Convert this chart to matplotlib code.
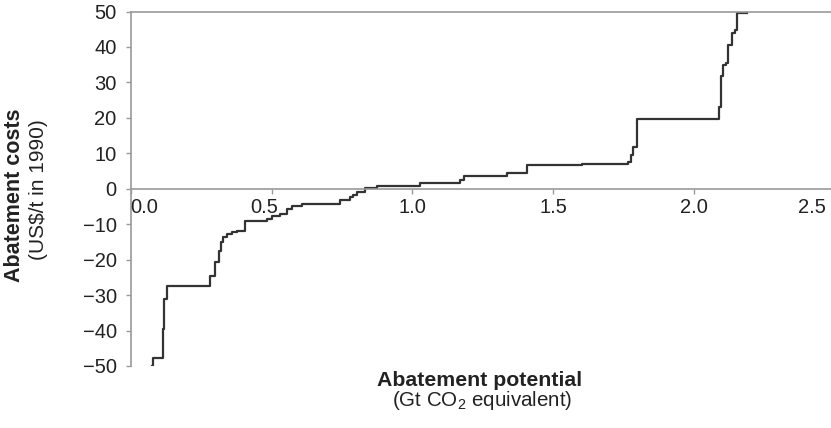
import numpy as np
import matplotlib
matplotlib.use("Agg")
import matplotlib.pyplot as plt
import matplotlib.transforms as mtransforms

plt.rcParams['font.family'] = ['Liberation Sans', 'DejaVu Sans']
plt.rcParams['mathtext.fontset'] = 'custom'
plt.rcParams['mathtext.rm'] = 'Liberation Sans'

# Marginal abatement cost curve (step starts, cost level of each step)
potential = [0.075, 0.079, 0.113, 0.119, 0.128, 0.282, 0.299, 0.313, 0.319, 0.329,
             0.341, 0.359, 0.376, 0.406, 0.483, 0.501, 0.530, 0.554, 0.572, 0.607,
             0.743, 0.778, 0.790, 0.802, 0.832, 0.873, 1.027, 1.169, 1.185, 1.335,
             1.406, 1.601, 1.767, 1.776, 1.785, 1.797, 2.089, 2.095, 2.104, 2.114,
             2.122, 2.134, 2.146, 2.154, 2.190]
cost = [-50.0, -47.7, -39.5, -31.0, -27.3, -24.5, -20.8, -17.5, -15.1, -13.7,
        -12.7, -12.3, -11.8, -9.2, -8.4, -7.8, -7.0, -5.6, -5.0, -4.2,
        -3.3, -2.4, -1.8, -1.0, 0.3, 0.65, 1.6, 2.4, 3.5, 4.4,
        6.6, 7.1, 7.5, 9.4, 11.8, 19.8, 23.1, 31.8, 34.9, 35.4,
        40.6, 43.9, 44.8, 49.7, 49.7]

xticks = [0.0, 0.5, 1.0, 1.5, 2.0, 2.5]
xtick_labels = ['0.0', '0.5', '1.0', '1.5', '2.0', '2.5']
yticks = [-50, -40, -30, -20, -10, 0, 10, 20, 30, 40, 50]

fig = plt.figure(figsize=(8.31, 4.28), dpi=100)
ax = fig.add_axes([0.1573, 0.1449, 0.8472, 0.8282])

ax.plot(potential, cost, drawstyle='steps-post', color='#333333', lw=1.6)

ax.set_xlim(0, 2.5)
ax.set_ylim(-50, 50)

spine_col = '#9a9a9a'
txt_col = '#222222'
ax.spines['right'].set_visible(False)
for s in ['top', 'left', 'bottom']:
    ax.spines[s].set_color(spine_col)
    ax.spines[s].set_linewidth(1.2)
ax.spines['bottom'].set_position(('data', 0))

ax.set_xticks(xticks)
ax.set_xticklabels([])
ax.set_yticks(yticks)
ax.set_yticklabels([str(v).replace('-', '\u2212') for v in yticks])
ax.tick_params(axis='both', colors=spine_col, labelcolor=txt_col,
               labelsize=14.5, length=3.6, width=1.0)
ax.tick_params(axis='y', pad=6.5)

# x tick labels under the zero line, nudged like the original
nudges = [0, -7, 0, 0, 0, -23]
aligns = ['left', 'center', 'center', 'center', 'center', 'center']
for xv, lab, dx, ha in zip(xticks, xtick_labels, nudges, aligns):
    off = mtransforms.ScaledTranslation(dx / 100, -9.5 / 100, fig.dpi_scale_trans)
    ax.text(xv, 0, lab, transform=ax.transData + off, ha=ha, va='top',
            fontsize=14.5, color=txt_col, clip_on=False)

fig.text(15 / 831, 1 - 195 / 428, 'Abatement costs', rotation=90, ha='center', va='center',
         fontsize=15.5, fontweight='bold', color=txt_col)
fig.text(39 / 831, 1 - 190 / 428, '(US$/t in 1990)', rotation=90, ha='center', va='center',
         fontsize=15, color=txt_col)
fig.text(480 / 831, 1 - 386 / 428, 'Abatement potential', ha='center', va='baseline',
         fontsize=15.3, fontweight='bold', color=txt_col)
fig.text(482 / 831, 1 - 406 / 428, r'(Gt CO$_\mathregular{2}$ equivalent)', ha='center',
         va='baseline', fontsize=14.8, color=txt_col)

fig.savefig('out.png', dpi=100)
